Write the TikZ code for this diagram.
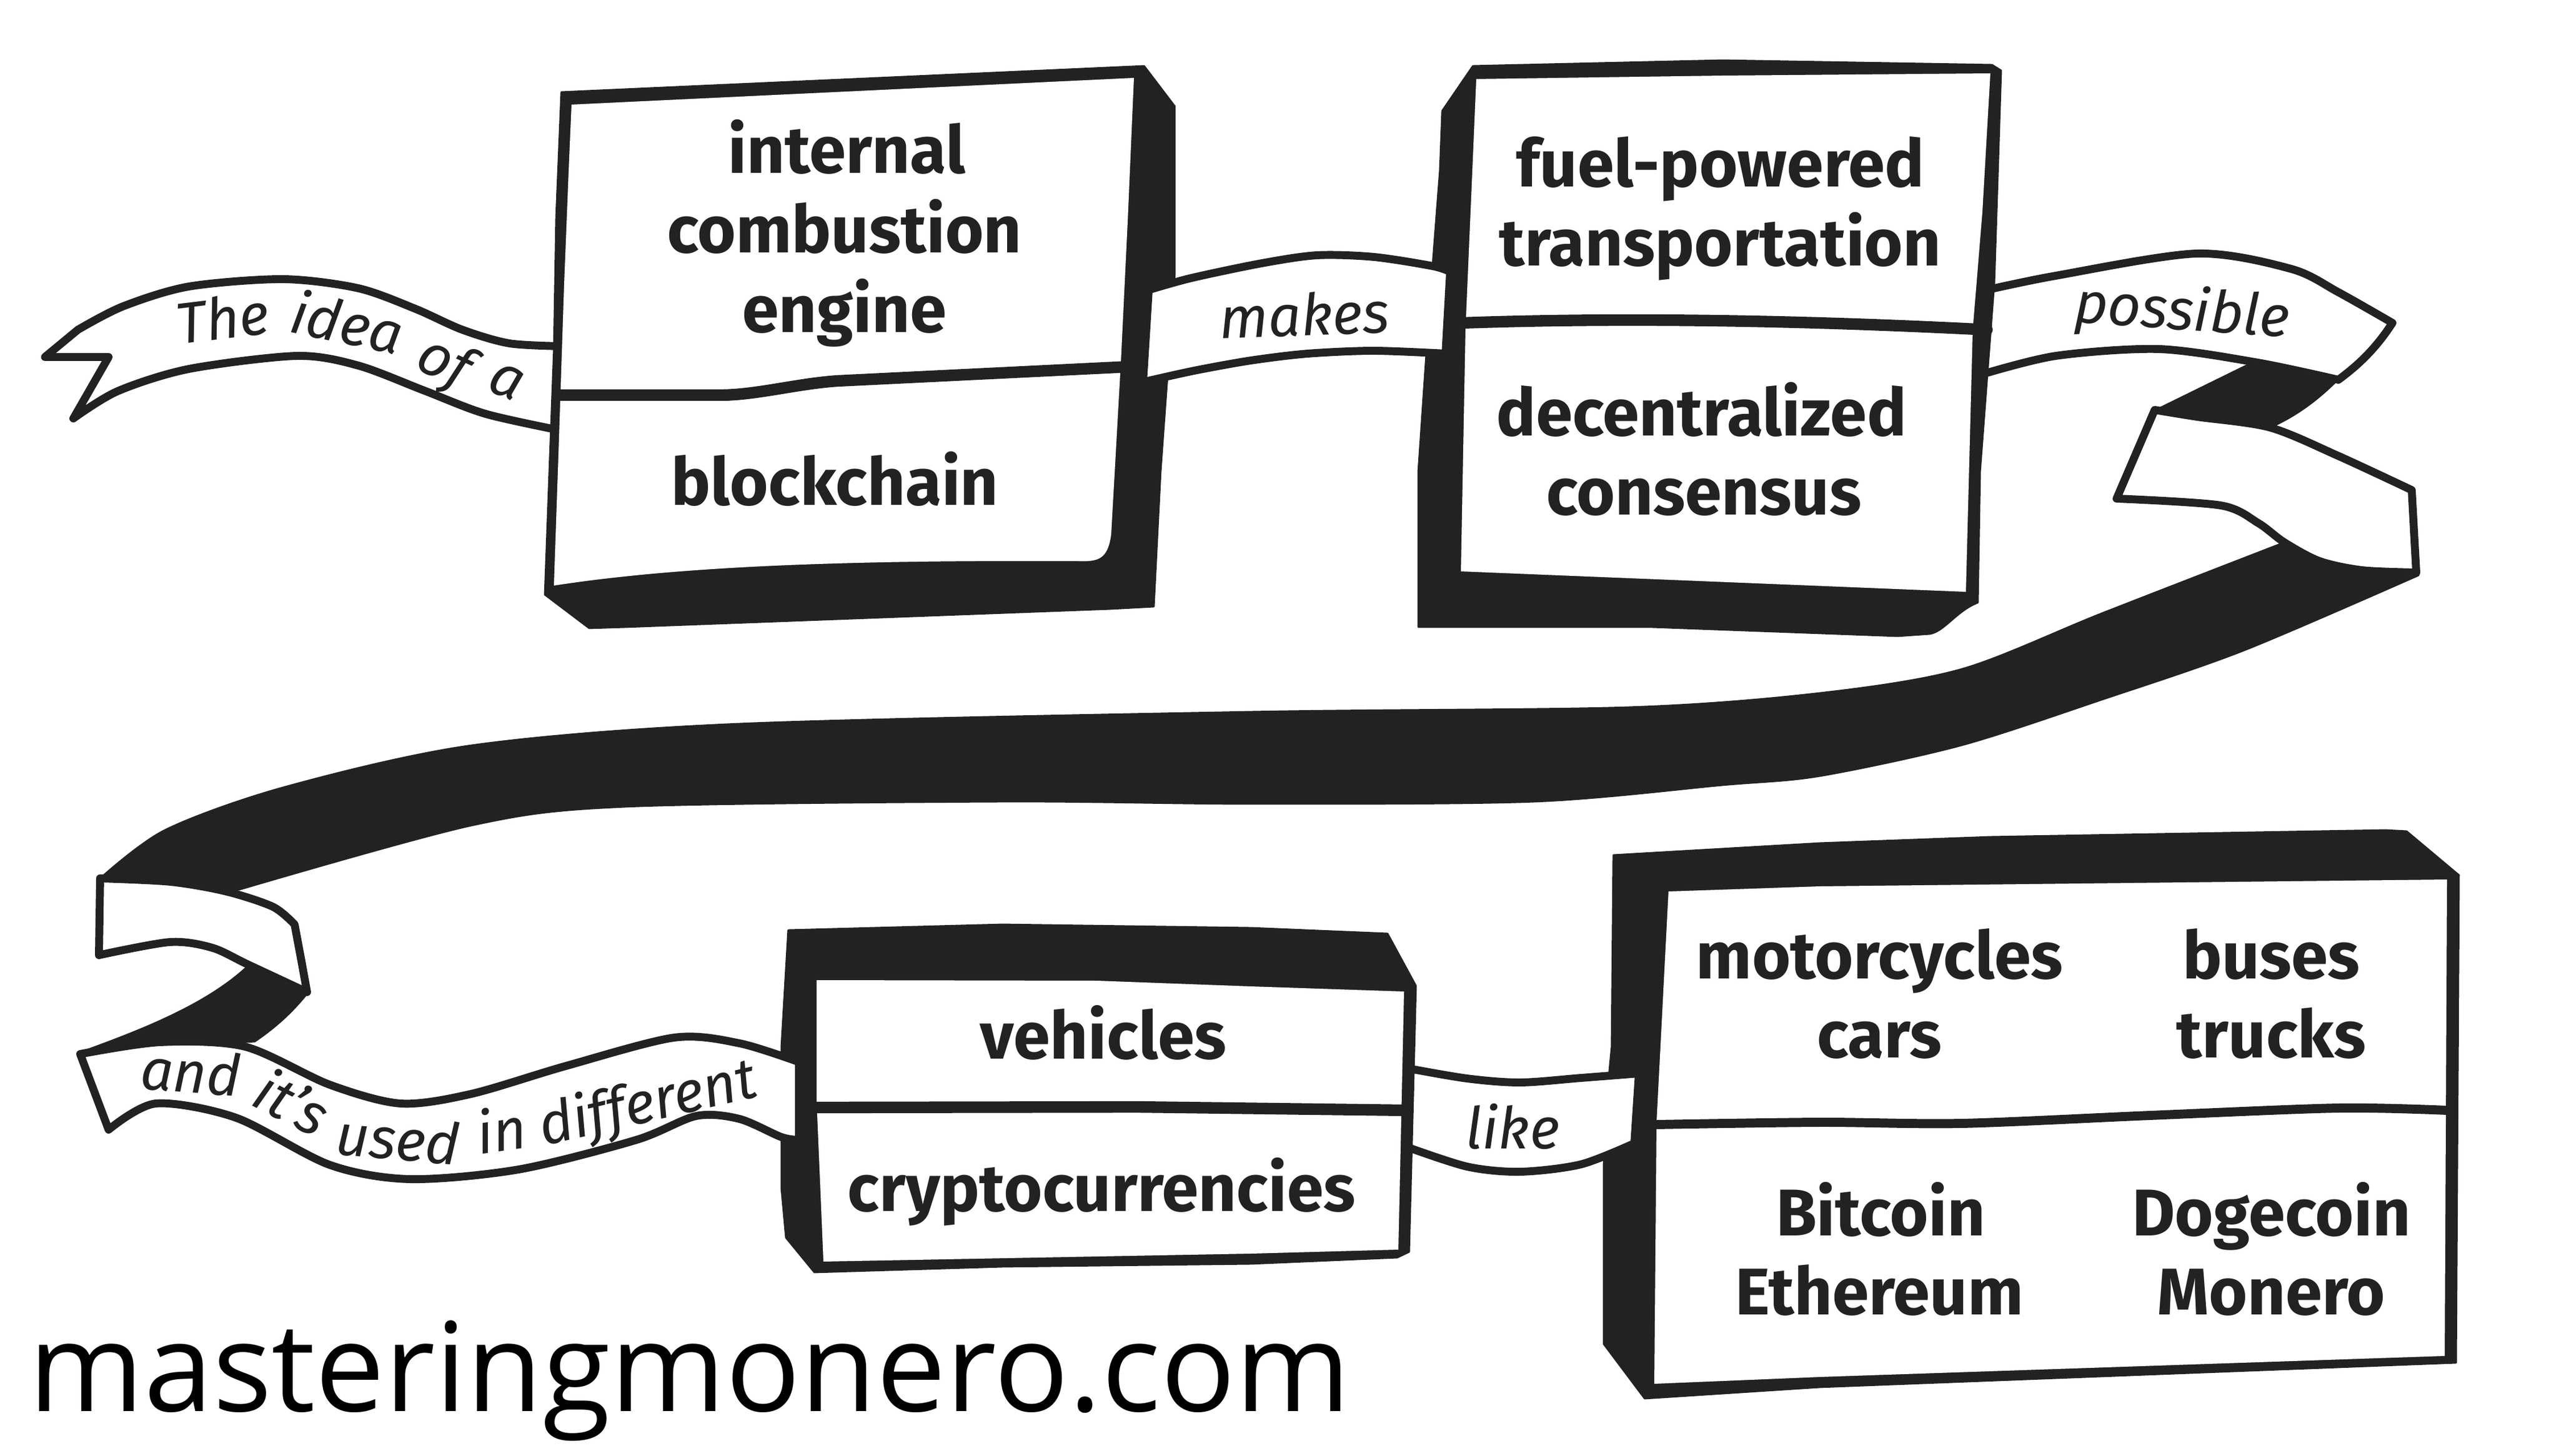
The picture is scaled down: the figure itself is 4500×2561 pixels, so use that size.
\documentclass[tikz,border=0pt]{standalone}
\usepackage{fontspec}
\setmainfont{Fira Sans}
\newfontfamily\boxfont{Fira Sans}
\newfontfamily\ribfont{Fira Sans}
\newfontfamily\webfont{Open Sans}
\definecolor{ink}{RGB}{34,34,34}
\begin{document}
\begin{tikzpicture}[x=0.34447pt,y=-0.34447pt,line join=round,line cap=round,
  darkpart/.style={fill=ink,draw=ink,line width=1pt},
  facepart/.style={fill=white},
  ribbon/.style={fill=white,draw=ink,line width=4.8pt},
  divider/.style={draw=ink,line width=7pt},
  thindivider/.style={draw=ink,line width=5.5pt},
  boxtxt/.style={font=\boxfont\bfseries\fontsize{40}{48}\selectfont,text=ink,inner sep=0pt,anchor=base},
  ribtxt/.style={font=\ribfont\itshape\fontsize{35}{40}\selectfont,text=ink,inner sep=0pt,anchor=base}]
\useasboundingbox (0,0) rectangle (4500,2561);
\fill[white] (0,0) rectangle (4500,2561);

% long back of the ribbon
\path[darkpart] plot[smooth,tension=0.5] coordinates {(4017,954) (3698,1078) (3449,1177) (3200,1219) (2863,1244) (2200,1252) (1300,1273) (829,1311) (498,1385) (290,1460) (176,1545)}
  -- (420,1565) -- plot[smooth,tension=0.5] coordinates {(420,1565) (829,1452) (1100,1419) (1763,1410) (2200,1414) (2698,1410) (3029,1381) (3200,1365) (3449,1311) (3698,1230) (3946,1144) (4253,1012)} -- cycle;
% twists
\path[darkpart] (3960,638) -- (4115,664) .. controls (4070,710) and (4030,735) .. (3992,752) -- (3789,722) -- cycle;
\path[darkpart] (435,1700) -- (539,1749) .. controls (510,1785) and (480,1810) .. (448,1832) -- (141,1851) .. controls (240,1815) and (360,1770) .. (435,1700) -- cycle;
% folded white pieces
\path[ribbon] plot[smooth,tension=0.5] coordinates {(3789,721) (3863,733) (3992,752) (4112,802) (4241,862)} -- (4245,935) -- (4249,1007)
  -- plot[smooth,tension=0.5] coordinates {(4249,1007) (4154,1003) (4079,987) (4017,954) (3971,920) (3905,889) (3722,877)} -- cycle;
\path[ribbon] plot[smooth,tension=0.5] coordinates {(176,1545) (300,1551) (398,1568) (480,1595) (518,1626)} -- (530,1690) -- (540,1745)
  -- plot[smooth,tension=0.5] coordinates {(540,1745) (435,1696) (373,1667) (299,1657) (174,1680)} -- cycle;
% ribbon "possible"
\path[ribbon] (3480,660) -- (3485,512) -- plot[smooth,tension=0.5] coordinates {(3485,512) (3615,485) (3863,446) (4029,473) (4112,514) (4207,568)}
  .. controls (4180,610) and (4150,640) .. (4112,668)
  -- plot[smooth,tension=0.5] coordinates {(4112,668) (3971,638) (3797,614) (3615,626) (3480,660)} -- cycle;
% ribbon "The idea of a"
\path[ribbon] plot[smooth,tension=0.5] coordinates {(990,609) (896,604) (813,580) (730,543) (630,507) (498,491) (332,504) (216,539) (137,580)}
  -- (79,628) -- (191,628) -- (129,736)
  -- plot[smooth,tension=0.5] coordinates {(129,736) (207,688) (332,649) (522,626) (630,643) (746,687) (854,728) (990,758)} -- cycle;

% box 1 and box 2 solid parts
\path[darkpart] (987,162) -- (2012,116) -- (2066,187) -- (2066,481) -- (2041,829) -- (2029,1067) -- (1954,1071) -- (1100,1103) -- (1036,1105) -- (958,1046) -- (966,829) -- (974,614) -- (978,381) -- cycle;
\path[darkpart] (2590,116) -- (3029,106) -- (3503,114) -- (3519,124) -- (3507,498) -- (3482,829) -- (3478,1060) .. controls (3440,1075) and (3420,1110) .. (3394,1115) -- (3337,1119) -- (2905,1103) -- (2494,1103) -- (2494,829) -- (2507,638) -- (2519,468) -- (2532,299) -- (2536,195) -- cycle;

% ribbon "makes"
\path[ribbon] (2010,672) -- (2020,510) -- plot[smooth,tension=0.5] coordinates {(2020,510) (2095,489) (2219,463) (2316,449) (2416,452) (2519,468) (2550,478)}
  -- (2542,622) -- plot[smooth,tension=0.5] coordinates {(2542,622) (2416,617) (2300,622) (2200,634) (2100,652) (2010,672)} -- cycle;

% box 4 solid part, ribbon "like", box 3 solid part, ribbon "and it's used in different"
\path[darkpart] (2837,1504) -- (3200,1483) -- (3500,1472) -- (4195,1460) -- (4232,1462) -- (4319,1535) -- (4324,1539) -- (4319,2397) -- (3200,2440) -- (2892,2460) -- (2820,2364) -- (2820,2049) -- (2830,1883) -- (2834,1841) -- cycle;
\path[ribbon] (2470,2016) -- (2475,1879) -- plot[smooth,tension=0.5] coordinates {(2475,1879) (2580,1897) (2673,1904) (2780,1896) (2882,1888)}
  -- (2874,2011) -- plot[smooth,tension=0.5] coordinates {(2874,2011) (2780,2048) (2673,2061) (2580,2052) (2470,2016)} -- cycle;
\path[darkpart] (1386,1636) -- (1763,1626) -- (2200,1632) -- (2440,1642) -- (2490,1734) -- (2478,2202) -- (2457,2212) -- (2200,2223) -- (1763,2228) -- (1432,2238) -- (1382,2177) -- (1374,2090) -- (1374,1841) -- cycle;
\path[ribbon] (141,1854) -- plot[smooth,tension=0.5] coordinates {(141,1854) (282,1833) (431,1841) (580,1908) (705,1941) (829,1924) (995,1875) (1186,1825) (1300,1835) (1405,1868)}
  -- (1405,2005) -- plot[smooth,tension=0.5] coordinates {(1405,2005) (1374,2000) (1300,1968) (1224,1963) (1119,2005) (912,2057) (721,2074) (580,2049) (415,1966) (274,1941) (191,1987)} -- cycle;

% front faces
\path[facepart] (1005,184) -- (1994,137) -- (1983,390) -- (1971,638) -- (1954,940) .. controls (1948,985) and (1930,988) .. (1896,987) .. controls (1500,985) and (1200,995) .. (974,1030) -- (982,800) -- (992,500) -- (1000,300) -- cycle;
\path[facepart] (2596,139) -- (3029,133) -- (3500,129) -- (3486,373) -- (3469,580) -- (3457,1041) -- (2569,1005) -- (2577,580) -- cycle;
\path[facepart] (1436,1724) -- (1929,1725) -- (2200,1735) -- (2469,1744) -- (2459,2198) -- (2200,2205) -- (1448,2219) -- (1436,1937) -- cycle;
\path[facepart] (2934,1568) -- (3200,1559) -- (4303,1547) -- (4299,2385) -- (3200,2422) -- (2909,2434) -- (2913,1974) -- cycle;

% dividers
\draw[divider] (985,695) -- (1266,695) .. controls (1330,695) and (1400,675) .. (1473,670) -- (1985,645);
\draw[divider] (2572,568) .. controls (2800,560) and (3100,560) .. (3494,580);
\draw[divider] (1436,1948) -- (2000,1947) -- (2475,1953);
\draw[thindivider] plot[smooth,tension=0.5] coordinates {(2913,1978) (3200,1974) (3449,1976) (3780,1962) (4112,1949) (4303,1953)};

% box texts
\node[boxtxt] (t1a) at (1489,305) {internal};
\node[boxtxt] (t1b) at (1485,445) {combustion};
\node[boxtxt] (t1c) at (1485,585) {engine};
\node[boxtxt] (t1d) at (1468,889) {blockchain};
\node[boxtxt] (t2a) at (3025,329) {fuel-powered};
\node[boxtxt] (t2b) at (3025,468) {transportation};
\node[boxtxt] (t2c) at (2992,767) {decentralized};
\node[boxtxt] (t2d) at (2996,906) {consensus};
\node[boxtxt] (t3a) at (1940,1862) {vehicles};
\node[boxtxt] (t3b) at (1937,2130) {cryptocurrencies};
\node[boxtxt] (t4a) at (3305,1721) {motorcycles};
\node[boxtxt] (t4b) at (3305,1860) {cars};
\node[boxtxt] (t4c) at (3994,1721) {buses};
\node[boxtxt] (t4d) at (3994,1860) {trucks};
\node[boxtxt] (t4e) at (3307,2173) {Bitcoin};
\node[boxtxt] (t4f) at (3305,2312) {Ethereum};
\node[boxtxt] (t4g) at (3994,2173) {Dogecoin};
\node[boxtxt] (t4h) at (3994,2312) {Monero};

% ribbon texts
\node[ribtxt,rotate=7] (w1) at (396,596) {The};
\node[ribtxt,rotate=-12] (w2) at (603,604) {idea};
\node[ribtxt,rotate=-25] (w3) at (768,666) {of};
\node[ribtxt,rotate=-22] (w4) at (880,696) {a};
\node[ribtxt,rotate=2] (w5) at (2295,590) {makes};
\node[ribtxt,rotate=-4] (w6) at (3835,580) {possible};
\node[ribtxt] (w7) at (2660,2020) {like};
\node[ribtxt,rotate=-4] (w8) at (333,1922) {and};
\node[ribtxt,rotate=-27] (w9) at (497,1972) {it’s};
\node[ribtxt,rotate=-5] (w10) at (697,2040) {used};
\node[ribtxt,rotate=8] (w11) at (887,2024) {in};
\node[ribtxt,rotate=13] (w12) at (1146,1972) {different};

% footer
\node[font=\webfont\fontsize{75}{80}\selectfont,text=black,inner sep=0pt,anchor=base west] (web) at (50,2482) {masteringmonero.com};
\end{tikzpicture}
\end{document}
